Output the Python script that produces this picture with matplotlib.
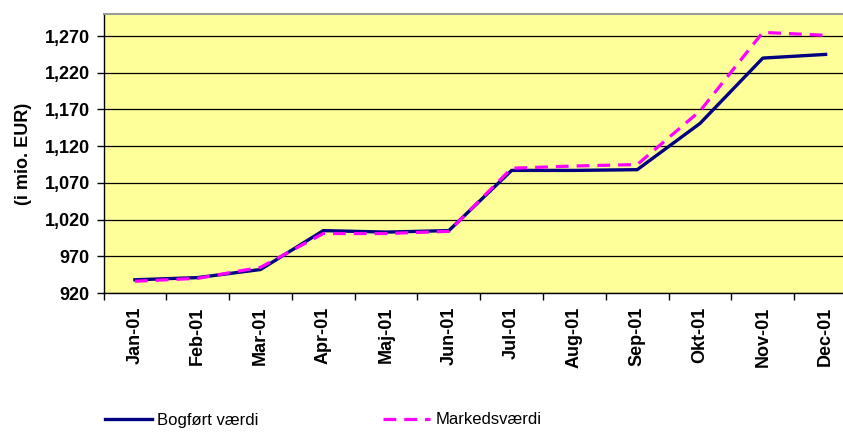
import numpy as np
import matplotlib
matplotlib.use("Agg")
import matplotlib.pyplot as plt

# data
months = ["Jan-01", "Feb-01", "Mar-01", "Apr-01", "Maj-01", "Jun-01",
          "Jul-01", "Aug-01", "Sep-01", "Okt-01", "Nov-01", "Dec-01"]
bogfoert = [938, 941, 952, 1005, 1003, 1005, 1087, 1087, 1088, 1151, 1240, 1245]
marked = [936, 940, 955, 1001, 1001, 1004, 1090, 1093, 1095, 1168, 1275, 1271]
yticks = [920, 970, 1020, 1070, 1120, 1170, 1220, 1270]

plt.rcParams['font.family'] = ['Liberation Sans', 'DejaVu Sans']

fig = plt.figure(figsize=(8.43, 4.33), dpi=100)
ax = fig.add_axes([0.1228, 0.3233, 0.8938, 0.6443])
ax.set_facecolor("#FFFF99")

x = np.arange(len(months))
ax.plot(x, bogfoert, color="#000080", lw=2.4, label="Bogført værdi", zorder=3)
ax.plot(x, marked, color="#FF00FF", lw=2.3, ls=(0, (4, 2.5)), label="Markedsværdi", zorder=4)

ax.set_xlim(-0.5, 11.5)
ax.set_ylim(920, 1300)
ax.set_yticks(yticks)
ax.set_yticklabels([f"{v:,}" for v in yticks], fontsize=13, fontweight="bold")
ax.yaxis.grid(True, color="black", lw=0.9)
ax.set_axisbelow(True)

ax.set_xticks(x)
ax.set_xticklabels(months, rotation=90, fontsize=13, fontweight="bold")
ax.tick_params(axis="x", which="major", length=0, pad=10)
ax.set_xticks(np.arange(-0.5, 12, 1), minor=True)
ax.tick_params(axis="x", which="minor", length=5, width=1)
ax.tick_params(axis="y", length=5, width=1, pad=5)

ax.set_ylabel("(i mio. EUR)", fontsize=13, fontweight="bold")
ax.yaxis.set_label_coords(-0.095, 0.5)

for s in ["left", "bottom"]:
    ax.spines[s].set_color("black")
    ax.spines[s].set_linewidth(1)
ax.spines["top"].set_color("#999999")
ax.spines["top"].set_linewidth(1.5)
ax.spines["right"].set_visible(False)

fig.legend(loc="center left", bbox_to_anchor=(105 / 843, 1 - 420 / 433),
           ncol=2, frameon=False, fontsize=12,
           handlelength=2.82, handletextpad=0.3, columnspacing=7.5,
           borderpad=0, borderaxespad=0)

fig.savefig("out.png", dpi=100)
